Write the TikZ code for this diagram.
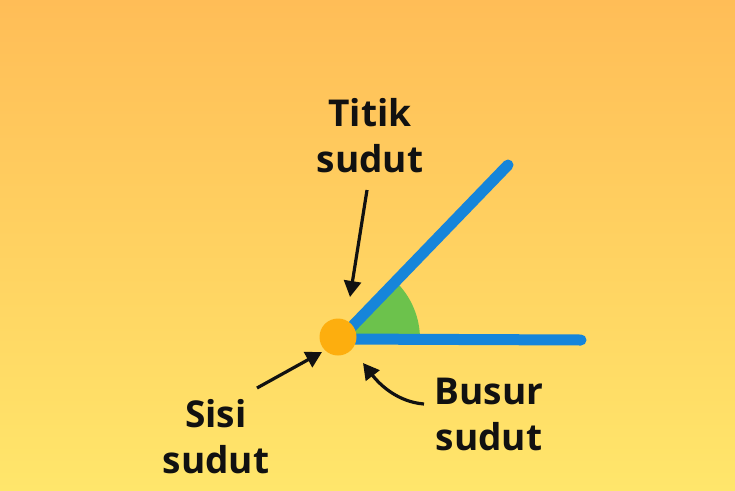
\documentclass[tikz,border=0pt]{standalone}
\usepackage{fontspec}
\setmainfont{Open Sans}
\usetikzlibrary{arrows.meta}
\definecolor{bgtop}{HTML}{FFBD57}
\definecolor{bgbot}{HTML}{FFE66B}
\definecolor{raybl}{HTML}{1685DA}
\definecolor{arcgr}{HTML}{6CC24C}
\definecolor{dotor}{HTML}{FDAE0E}
\definecolor{ink}{HTML}{111111}
\tikzset{
  lbl/.style={font=\fontsize{37}{46}\selectfont\bfseries, text=ink, align=center, inner sep=0pt},
  ray/.style={draw=raybl, line width=11pt, line cap=round},
  pointer/.style={draw=ink, line width=3.2pt, -{Triangle[length=16pt,width=17pt]}}
}
\begin{document}
\begin{tikzpicture}[x=1pt,y=-1pt]
\useasboundingbox (0,0) rectangle (735,490);
\shade[top color=bgtop, bottom color=bgbot] (0,0) rectangle (735,490);
\coordinate (v) at (340,339);
\coordinate (r1) at (508,165);
\coordinate (r2) at (581,340);
\fill[arcgr] (v) -- ++(80,0) arc[start angle=0, end angle=-46, radius=80] -- cycle;
\draw[ray] (v) -- (r1);
\draw[ray] (v) -- (r2);
\node[circle, fill=dotor, minimum size=37pt, inner sep=0pt] (dot) at (338,337) {};
\node[lbl] (titik) at (370,136) {Titik\\sudut};
\node[lbl] (sisi) at (216,437) {Sisi\\sudut};
\node[lbl] (busur) at (489,414) {Busur\\sudut};
\coordinate (t1) at (367,190);
\coordinate (t2) at (350,297);
\coordinate (s1) at (257,388);
\coordinate (s2) at (322,352);
\coordinate (b1) at (424,404);
\coordinate (b2) at (363,363);
\draw[pointer] (t1) -- (t2);
\draw[pointer] (s1) -- (s2);
\draw[pointer] (b1) .. controls (398,402) and (380,385) .. (b2);
\end{tikzpicture}
\end{document}
